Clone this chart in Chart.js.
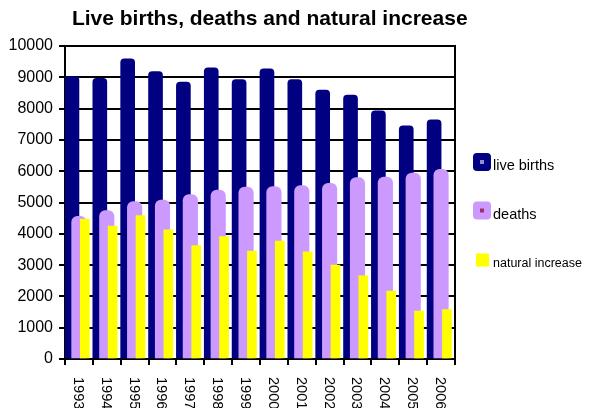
<!DOCTYPE html>
<html><head><meta charset="utf-8">
<script src="https://cdn.jsdelivr.net/npm/chart.js@4"></script>
<style>html,body{margin:0;padding:0;background:#fff;}canvas{display:block;}</style>
</head><body>
<canvas id="c" width="589" height="408"></canvas>
<script>
const years = ['1993','1994','1995','1996','1997','1998','1999','2000','2001','2002','2003','2004','2005','2006'];
const liveBirths = [9020, 8970, 9590, 9180, 8850, 9300, 8930, 9270, 8930, 8590, 8430, 7930, 7450, 7640];
const deaths = [4560, 4740, 5030, 5080, 5250, 5400, 5490, 5510, 5540, 5610, 5800, 5810, 5940, 6060];
const naturalIncrease = [4470, 4250, 4580, 4130, 3620, 3910, 3450, 3770, 3420, 3000, 2660, 2170, 1530, 1580];
const seriesNames = ['live births', 'deaths', 'natural increase'];
const yMin = 0, yMax = 10000, yStep = 1000;
const chartTitle = 'Live births, deaths and natural increase';

const FONT = "'Liberation Sans', Arial, Helvetica, sans-serif";
Chart.defaults.font.family = FONT;
Chart.defaults.color = '#000';

const firstYear = Number(years[0]);

const yearLabels = {
  id: 'yearLabels',
  afterDraw(chart) {
    const xs = chart.scales.x, ctx = chart.ctx;
    ctx.save();
    ctx.fillStyle = '#000';
    ctx.font = '14.5px ' + FONT;
    ctx.textAlign = 'left';
    ctx.textBaseline = 'middle';
    xs.ticks.forEach((t, i) => {
      const x = xs.getPixelForTick(i) - 1;
      ctx.save();
      ctx.translate(x, xs.bottom + 12);
      ctx.rotate(Math.PI / 2);
      ctx.fillText(xs.getLabelForValue(t.value), 0, 0);
      ctx.restore();
    });
    ctx.restore();
  }
};

const sideLegend = {
  id: 'sideLegend',
  afterDraw(chart) {
    const ctx = chart.ctx, area = chart.chartArea;
    const mid = (area.top + area.bottom) / 2;
    const rows = [mid - 40.5, mid + 8, mid + 57.5];
    const inner = ['#8f8fd0', '#993366', null];
    const fonts = [14.5, 14.5, 12.5];
    ctx.save();
    chart.data.datasets.forEach((ds, i) => {
      const cy = rows[i];
      const x0 = area.right + 18;
      if (inner[i]) {
        const s = 18;
        ctx.fillStyle = ds.backgroundColor;
        ctx.beginPath();
        ctx.roundRect(x0, cy - s / 2, s, s, 4);
        ctx.fill();
        ctx.fillStyle = inner[i];
        ctx.fillRect(x0 + s / 2 - 2, cy - 2, 4, 4);
      } else {
        const s = 13;
        ctx.fillStyle = ds.backgroundColor;
        ctx.fillRect(x0 + 3, cy - s / 2, s, s);
      }
      ctx.fillStyle = '#000';
      ctx.font = fonts[i] + 'px ' + FONT;
      ctx.textAlign = 'left';
      ctx.textBaseline = 'middle';
      ctx.fillText(ds.label, x0 + 20, cy + 4);
    });
    ctx.restore();
  }
};

new Chart(document.getElementById('c'), {
  type: 'bar',
  data: {
    labels: years,
    datasets: [
      { label: seriesNames[0], data: liveBirths, backgroundColor: '#000080', xAxisID: 'xb', yAxisID: 'y',
        grouped: false, categoryPercentage: 1, barPercentage: 0.5, barThickness: 14,
        borderRadius: {topLeft: 4, topRight: 4, bottomLeft: 0, bottomRight: 0}, order: 3 },
      { label: seriesNames[1], data: deaths, backgroundColor: '#CC99FF', xAxisID: 'x', yAxisID: 'y',
        grouped: false, categoryPercentage: 1, barPercentage: 0.52, barThickness: 14.5,
        borderRadius: {topLeft: 6, topRight: 6, bottomLeft: 0, bottomRight: 0}, order: 2 },
      { label: seriesNames[2], data: naturalIncrease, backgroundColor: '#FFFF00', xAxisID: 'xn', yAxisID: 'y',
        grouped: false, categoryPercentage: 1, barPercentage: 0.32, barThickness: 9, order: 1 }
    ]
  },
  options: {
    responsive: false,
    animation: false,
    devicePixelRatio: 1,
    layout: { padding: { left: 2.5, right: 52, top: 0, bottom: 43 } },
    plugins: {
      legend: { display: false },
      tooltip: { enabled: false },
      title: {
        display: true, text: chartTitle, color: '#000',
        font: { size: 21, weight: 'bold', family: FONT },
        padding: { top: 7, bottom: 13.8 }
      }
    },
    scales: {
      x: {
        type: 'category', offset: true, position: 'bottom',
        grid: { offset: true, drawOnChartArea: false, drawTicks: true, tickLength: 6, color: '#000', lineWidth: 2 },
        ticks: { display: false },
        border: { color: '#000', width: 2 }
      },
      xb: { type: 'linear', axis: 'x', display: false, offset: false, grid: { offset: false }, bounds: 'data',
            min: firstYear - 0.25, max: firstYear - 0.25 + years.length },
      xn: { type: 'linear', axis: 'x', display: false, offset: false, grid: { offset: false }, bounds: 'data',
            min: firstYear - 0.71, max: firstYear - 0.71 + years.length },
      y: {
        min: yMin, max: yMax, position: 'left',
        ticks: { stepSize: yStep, color: '#000', font: { size: 16 }, padding: 6, callback: v => String(v) },
        grid: { color: '#000', lineWidth: 2, tickLength: 6, tickColor: '#000' },
        border: { color: '#000', width: 2 }
      },
      y2: {
        type: 'linear', axis: 'y', position: 'right', display: true,
        grid: { display: false, drawTicks: false },
        ticks: { display: false },
        border: { display: true, color: '#000', width: 2 },
        afterFit(s) { s.width = 82; }
      }
    }
  },
  plugins: [yearLabels, sideLegend]
});
</script>
</body></html>
